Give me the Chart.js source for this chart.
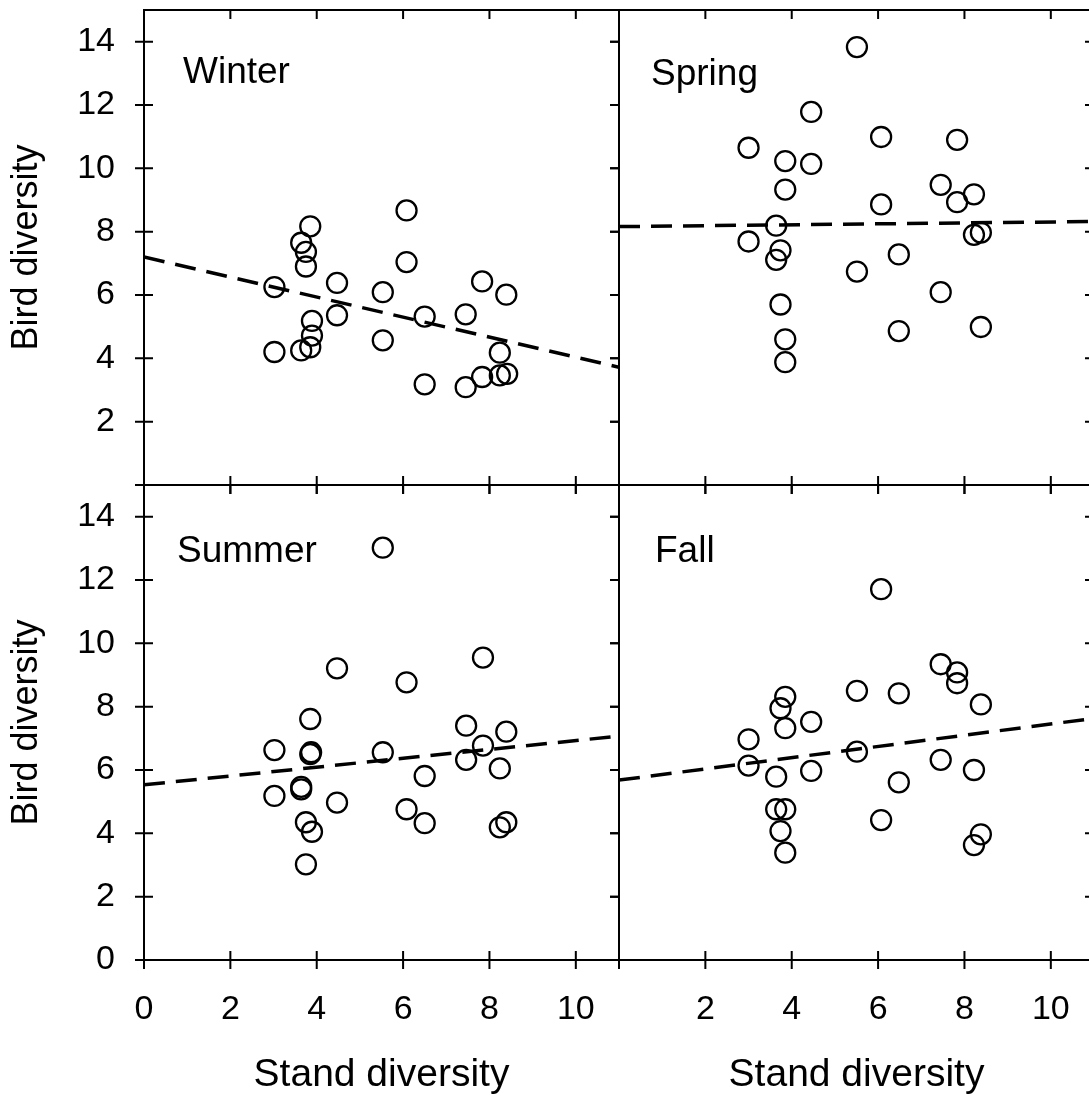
<!DOCTYPE html>
<html>
<head>
<meta charset="utf-8">
<script src="https://cdn.jsdelivr.net/npm/chart.js@4.4.1/dist/chart.umd.min.js"></script>
<style>
  html, body { margin: 0; padding: 0; background: #fff; overflow: hidden; }
  #wrap { position: relative; width: 1089px; height: 1099px; overflow: hidden; background: #fff; }
  #wrap canvas { position: absolute; }
</style>
</head>
<body>
<div id="wrap">
  <canvas id="winter" width="630" height="495" style="left:0;top:0"></canvas>
  <canvas id="spring" width="500" height="495" style="left:600px;top:0"></canvas>
  <canvas id="summer" width="630" height="624" style="left:0;top:475px"></canvas>
  <canvas id="fall" width="500" height="624" style="left:600px;top:475px"></canvas>
</div>
<script>
// stand diversity (x) and bird diversity (y), one pair of arrays per season
const winterX = [6.08, 3.85, 3.64, 3.75, 3.75, 6.08, 3.02, 4.47, 5.53, 7.83, 8.39, 4.47, 6.50, 7.45, 3.89, 3.89, 5.53, 3.85, 3.64, 3.02, 8.24, 6.50, 7.45, 7.83, 8.24, 8.41];
const winterY = [8.67, 8.17, 7.65, 7.36, 6.90, 7.04, 6.25, 6.38, 6.09, 6.43, 6.01, 5.36, 5.32, 5.39, 5.18, 4.72, 4.57, 4.35, 4.25, 4.20, 4.18, 3.18, 3.09, 3.41, 3.46, 3.51];

const springX = [5.51, 4.45, 3.00, 6.07, 7.83, 3.85, 4.45, 3.85, 7.45, 8.22, 7.83, 6.07, 3.64, 3.00, 8.22, 8.38, 3.74, 3.64, 6.48, 5.51, 7.45, 3.74, 6.48, 8.38, 3.85, 3.85];
const springY = [13.83, 11.78, 10.65, 10.99, 10.90, 10.23, 10.14, 9.33, 9.48, 9.18, 8.93, 8.86, 8.19, 7.69, 7.90, 7.97, 7.41, 7.11, 7.28, 6.74, 6.09, 5.70, 4.86, 4.99, 4.60, 3.88];

const summerX = [5.53, 7.85, 4.47, 6.08, 3.85, 7.46, 8.39, 7.85, 3.02, 3.87, 3.85, 5.53, 7.46, 8.24, 6.50, 3.64, 3.64, 3.02, 4.47, 6.08, 6.50, 3.75, 3.89, 8.39, 8.24, 3.75];
const summerY = [13.02, 9.55, 9.21, 8.77, 7.61, 7.40, 7.21, 6.77, 6.63, 6.56, 6.50, 6.56, 6.32, 6.05, 5.81, 5.47, 5.39, 5.18, 4.97, 4.76, 4.32, 4.35, 4.05, 4.35, 4.19, 3.02];

const fallX = [6.07, 7.45, 7.83, 7.83, 5.51, 6.48, 3.85, 3.74, 8.38, 4.45, 3.85, 3.00, 5.51, 7.45, 3.00, 8.22, 4.45, 3.64, 6.48, 3.64, 3.85, 6.07, 3.74, 8.38, 8.22, 3.85];
const fallY = [11.71, 9.34, 9.08, 8.74, 8.50, 8.42, 8.31, 7.95, 8.07, 7.52, 7.32, 6.97, 6.58, 6.32, 6.14, 6.00, 5.97, 5.79, 5.61, 4.76, 4.76, 4.42, 4.07, 3.97, 3.63, 3.39];

// regression lines, end points at x = 0 and x = 11
const trendX = [0, 11];
const winterTrend = [7.2, 3.72];
const springTrend = [8.16, 8.32];
const summerTrend = [5.53, 7.07];
const fallTrend = [5.68, 7.63];

// ticks
const xTicksAll = [0, 2, 4, 6, 8, 10];
const yTicksAll = [0, 2, 4, 6, 8, 10, 12, 14];
const xLabelsLeft = [0, 2, 4, 6, 8, 10];
const xLabelsRight = [2, 4, 6, 8, 10];
const yLabelsTop = [2, 4, 6, 8, 10, 12, 14];
const yLabelsBottom = [0, 2, 4, 6, 8, 10, 12, 14];

const FONT = '"Liberation Sans", Arial, sans-serif';

// box, tick marks and season name
const framePlugin = {
  id: 'frame',
  afterDraw(chart, args, o) {
    const {ctx, chartArea: a, scales: {x, y}} = chart;
    ctx.save();
    ctx.strokeStyle = '#000';
    ctx.lineWidth = 2;
    ctx.strokeRect(a.left, a.top, a.right - a.left, a.bottom - a.top);
    ctx.beginPath();
    xTicksAll.forEach(v => {
      const px = x.getPixelForValue(v);
      ctx.moveTo(px, a.bottom - 9);
      ctx.lineTo(px, a.bottom + 9);
      ctx.moveTo(px, a.top);
      ctx.lineTo(px, a.top + 9);
    });
    yTicksAll.forEach(v => {
      const py = y.getPixelForValue(v);
      ctx.moveTo(a.left - 9, py);
      ctx.lineTo(o.leftCross ? a.left + 9 : a.left, py);
      ctx.moveTo(a.right - 9, py);
      ctx.lineTo(a.right, py);
    });
    ctx.stroke();
    ctx.font = '37px ' + FONT;
    ctx.fillStyle = '#000';
    ctx.textBaseline = 'alphabetic';
    ctx.fillText(o.label, a.left + o.dx, a.top + o.dy);
    ctx.restore();
  }
};

function makePanel(id, p) {
  const points = p.xs.map((v, i) => ({x: v, y: p.ys[i]}));
  const line = trendX.map((v, i) => ({x: v, y: p.trend[i]}));
  return new Chart(document.getElementById(id), {
    type: 'scatter',
    data: {
      datasets: [{
        data: points,
        pointStyle: 'circle',
        pointRadius: 10,
        pointBorderWidth: 2.3,
        pointBorderColor: '#000',
        pointBackgroundColor: 'rgba(0,0,0,0)'
      }, {
        data: line,
        showLine: true,
        borderColor: '#000',
        borderWidth: 3.5,
        borderDash: [21, 11],
        pointRadius: 0
      }]
    },
    options: {
      responsive: false,
      animation: false,
      devicePixelRatio: 1,
      layout: { padding: p.padding, autoPadding: false },
      plugins: {
        legend: { display: false },
        tooltip: { enabled: false },
        frame: { label: p.label, dx: p.dx, dy: p.dy, leftCross: p.leftCross }
      },
      scales: {
        x: {
          type: 'linear',
          min: 0,
          max: 11,
          display: !!p.xLabels,
          afterBuildTicks: s => { s.ticks = (p.xLabels || []).map(v => ({value: v})); },
          afterFit: s => {
            s.height = p.xLabels ? 139 : 0;
            s.paddingLeft = 0;
            s.paddingRight = 0;
          },
          grid: { display: false, drawTicks: false },
          border: { display: false },
          ticks: { padding: 29, color: '#000', autoSkip: false, maxRotation: 0, font: { size: 34, family: FONT } },
          title: { display: true, text: 'Stand diversity', color: '#000', padding: { top: 0, bottom: 0 }, font: { size: 39, family: FONT } }
        },
        y: {
          type: 'linear',
          min: 0,
          max: 15,
          display: !!p.yLabels,
          afterBuildTicks: s => { s.ticks = (p.yLabels || []).map(v => ({value: v})); },
          afterFit: s => {
            s.width = p.yLabels ? 144 : 0;
            s.paddingTop = 0;
            s.paddingBottom = 0;
          },
          grid: { display: false, drawTicks: false },
          border: { display: false },
          ticks: { padding: 29, color: '#000', autoSkip: false, font: { size: 34, family: FONT } },
          title: { display: true, text: 'Bird diversity', color: '#000', padding: { top: 5, bottom: 0 }, font: { size: 36, family: FONT } }
        }
      }
    },
    plugins: [framePlugin]
  });
}

makePanel('winter', {
  xs: winterX, ys: winterY, trend: winterTrend, label: 'Winter', dx: 39, dy: 73,
  yLabels: yLabelsTop, leftCross: true,
  padding: { left: 0, top: 10, right: 11, bottom: 10 }
});
makePanel('spring', {
  xs: springX, ys: springY, trend: springTrend, label: 'Spring', dx: 32, dy: 75,
  leftCross: false,
  padding: { left: 19, top: 10, right: 6, bottom: 10 }
});
makePanel('summer', {
  xs: summerX, ys: summerY, trend: summerTrend, label: 'Summer', dx: 33, dy: 77,
  xLabels: xLabelsLeft, yLabels: yLabelsBottom, leftCross: true,
  padding: { left: 0, top: 10, right: 11, bottom: 0 }
});
makePanel('fall', {
  xs: fallX, ys: fallY, trend: fallTrend, label: 'Fall', dx: 36, dy: 77,
  xLabels: xLabelsRight, leftCross: false,
  padding: { left: 19, top: 10, right: 6, bottom: 0 }
});
</script>
</body>
</html>
